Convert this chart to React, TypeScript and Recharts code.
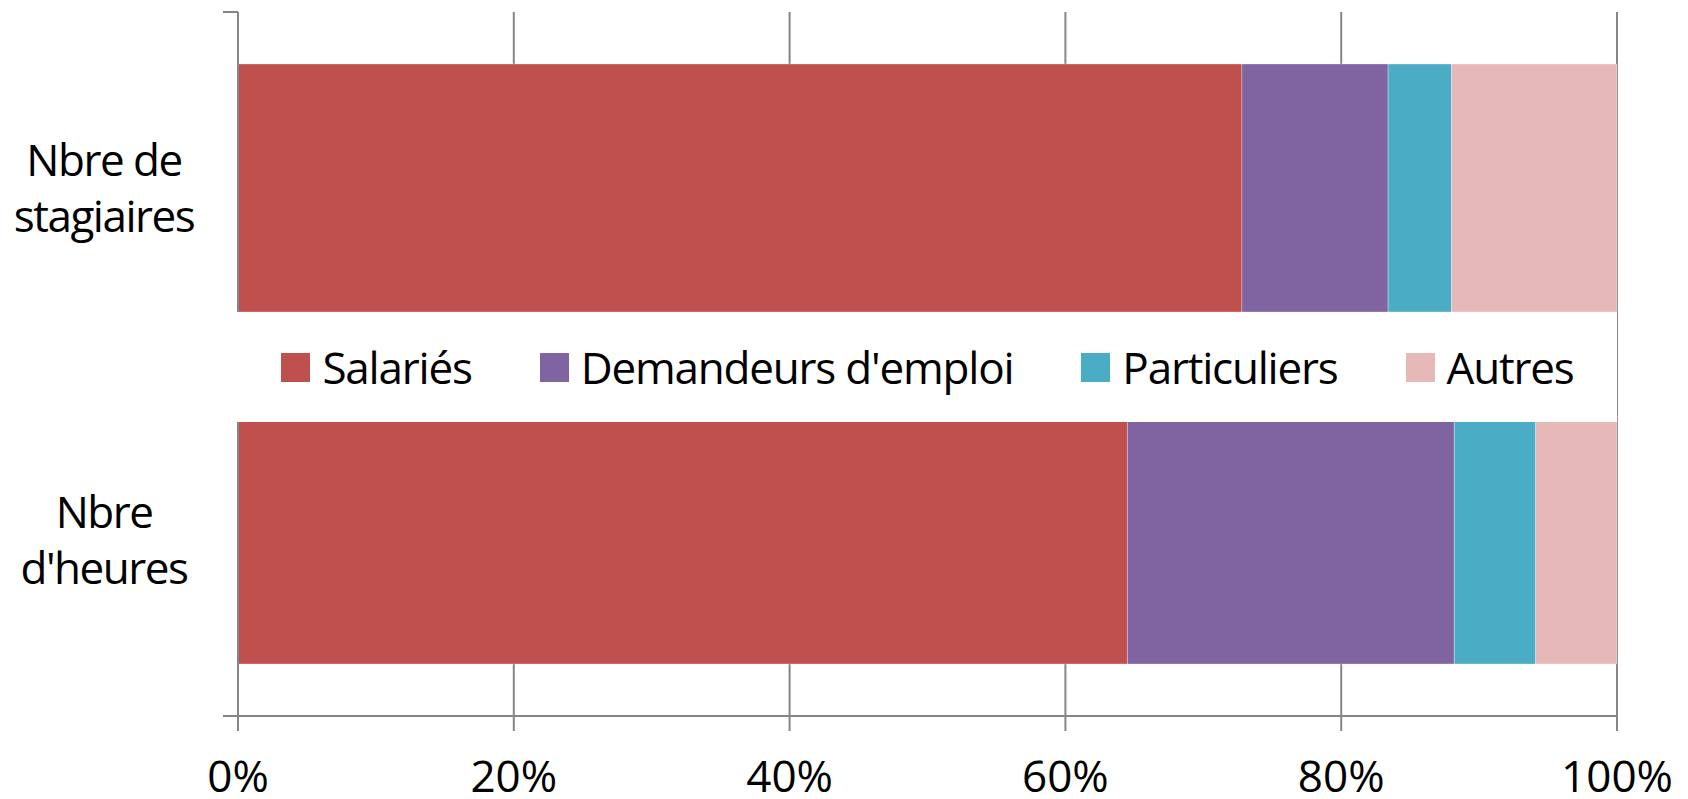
import React from 'react';
import { Bar, BarChart, CartesianGrid, Legend, XAxis, YAxis } from 'recharts';

// part of each group, in %
const categories = ['Nbre de stagiaires', "Nbre d'heures"];
const categoryLines = [
  ['Nbre de', 'stagiaires'],
  ['Nbre', "d'heures"],
];
const salaries = [72.8, 64.5];
const demandeurs = [10.6, 23.7];
const particuliers = [4.6, 5.9];
const autres = [12.0, 5.9];
const xTicks = [0, 0.2, 0.4, 0.6, 0.8, 1];

const seriesKeys = ['salaries', 'demandeurs', 'particuliers', 'autres'];
const seriesNames = ['Salariés', "Demandeurs d'emploi", 'Particuliers', 'Autres'];
const colors = ['#C0504D', '#8064A2', '#4BACC6', '#E6B9B8'];

const data = categories.map((name, i) => ({
  name,
  salaries: salaries[i],
  demandeurs: demandeurs[i],
  particuliers: particuliers[i],
  autres: autres[i],
}));

const GRID = '#868686';
const FONT = 44;

const CategoryTick = (props: any) => {
  const { x, y, index, payload } = props;
  const half = payload && payload.offset > 50 ? payload.offset : 176;
  const lines = categoryLines[index] ?? [payload.value];
  const cx = x - 134;
  return (
    <g>
      <line x1={x - 15} x2={x} y1={y - half} y2={y - half} stroke={GRID} strokeWidth={2} />
      {index === categories.length - 1 && (
        <line x1={x - 15} x2={x} y1={y + half} y2={y + half} stroke={GRID} strokeWidth={2} />
      )}
      <text x={cx} y={y} textAnchor="middle" fontSize={FONT} fill="#000" letterSpacing={-1.5}>
        <tspan x={cx} dy={-12}>
          {lines[0]}
        </tspan>
        <tspan x={cx} dy={56}>
          {lines[1]}
        </tspan>
      </text>
    </g>
  );
};

const LegendContent = () => (
  <div
    style={{
      display: 'flex',
      justifyContent: 'center',
      alignItems: 'center',
      height: '100%',
      gap: 68,
    }}
  >
    {seriesNames.map((n, i) => (
      <div key={n} style={{ display: 'flex', alignItems: 'center' }}>
        <span
          style={{ width: 29, height: 29, background: colors[i], marginRight: 12, display: 'inline-block' }}
        />
        <span style={{ fontSize: FONT, lineHeight: 1, color: '#000', letterSpacing: -1.2 }}>{n}</span>
      </div>
    ))}
  </div>
);

const App: React.FC = () => (
  <div style={{ position: 'absolute', left: 0, top: 0, fontFamily: '"Open Sans", sans-serif' }}>
    <BarChart
      width={1688}
      height={799}
      data={data}
      layout="vertical"
      stackOffset="expand"
      margin={{ top: 12, right: 71, left: 0, bottom: 0 }}
    >
      <CartesianGrid horizontal={false} stroke={GRID} strokeWidth={2} />
      <XAxis
        type="number"
        domain={[0, 1]}
        ticks={xTicks}
        tickFormatter={(v: number) => `${Math.round(v * 100)}%`}
        height={83}
        tickSize={15}
        tickMargin={30}
        axisLine={{ stroke: GRID, strokeWidth: 2 }}
        tickLine={{ stroke: GRID, strokeWidth: 2 }}
        tick={{ fontSize: FONT, fill: '#000' }}
        interval={0}
      />
      <YAxis
        type="category"
        dataKey="name"
        width={238}
        tickSize={0}
        tickMargin={0}
        tickLine={false}
        axisLine={{ stroke: GRID, strokeWidth: 2 }}
        tick={<CategoryTick />}
        interval={0}
      />
      <Legend
        layout="horizontal"
        verticalAlign="middle"
        align="center"
        content={<LegendContent />}
        wrapperStyle={{
          left: 215,
          top: 312,
          width: 1402,
          height: 110,
          paddingLeft: 23,
          boxSizing: 'border-box',
          backgroundColor: '#fff',
        }}
      />
      {seriesKeys.map((k, i) => (
        <Bar
          key={k}
          dataKey={k}
          name={seriesNames[i]}
          stackId="a"
          fill={colors[i]}
          stroke="#fff"
          strokeOpacity={0.3}
          strokeWidth={1}
          barSize={248}
          isAnimationActive={false}
        />
      ))}
    </BarChart>
  </div>
);

export default App;
